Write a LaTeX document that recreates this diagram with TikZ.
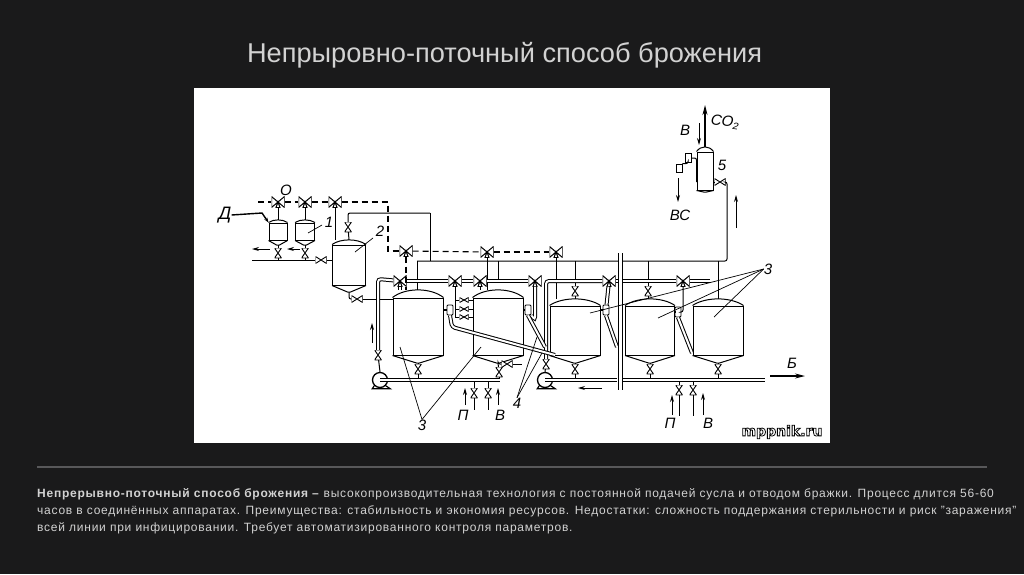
\documentclass[tikz,border=0pt]{standalone}
\usepackage{xcolor}
\usepackage{fontspec}
\setmainfont{Liberation Sans}
\newfontfamily\markfont{DejaVu Sans}
\usetikzlibrary{arrows.meta, positioning, shapes}
\definecolor{slide}{HTML}{1A1A1B}
\definecolor{rulegray}{HTML}{58585A}
\definecolor{bodytext}{HTML}{D2D2D2}

\begin{document}
\begin{tikzpicture}[
        x=1pt, y=-1pt,
        tank/.style={rectangle, draw, line width=1pt, inner sep=0pt},
        pipe/.style={line width=1pt, rounded corners=2pt},
        dpipe/.style={line width=1pt, double=white, double distance=2pt, rounded corners=3pt},
        steam/.style={line width=1.1pt, dash pattern=on 6pt off 4pt},
        flow/.style={-{Stealth[length=7pt, width=4pt]}, line width=.9pt},
        bold flow/.style={-{Stealth[length=10pt, width=5pt]}, line width=1.3pt},
        leader/.style={line width=.7pt},
        lab/.style={font=\fontsize{15}{15}\selectfont\itshape, inner sep=0pt},
        sensor/.style={rectangle, draw, fill=white, rounded corners=1pt, line width=.8pt, minimum width=6pt, minimum height=10pt, inner sep=0pt},
        pump/.style={circle, draw, fill=white, line width=1.3pt, minimum size=15pt, inner sep=0pt},
        bodyline/.style={anchor=west, inner sep=0pt, text=bodytext, font=\fontsize{12}{13}\selectfont\addfontfeature{LetterSpace=6.3}},
        vvalve/.style={inner sep=0pt, minimum width=7pt, minimum height=10pt, path picture={
            \draw[line width=.9pt, fill=white] (path picture bounding box.north west) -- (path picture bounding box.north east)
                -- (path picture bounding box.south west) -- (path picture bounding box.south east) -- cycle;}},
        hvalve/.style={inner sep=0pt, minimum width=11pt, minimum height=7pt, path picture={
            \draw[line width=.9pt, fill=white] (path picture bounding box.north west) -- (path picture bounding box.south west)
                -- (path picture bounding box.north east) -- (path picture bounding box.south east) -- cycle;}},
        small valve/.style={hvalve, minimum width=9pt, minimum height=5pt},
        tvalve/.style={inner sep=0pt, minimum width=13pt, minimum height=11pt, path picture={
            \draw[line width=1pt, fill=white] (path picture bounding box.north west) -- (path picture bounding box.center)
                -- (path picture bounding box.south west) -- cycle
                (path picture bounding box.north east) -- (path picture bounding box.center)
                -- (path picture bounding box.south east) -- cycle
                ([xshift=-2pt]path picture bounding box.south) -- (path picture bounding box.center)
                -- ([xshift=2pt]path picture bounding box.south) -- cycle;}}
        ]
        \fill[slide] (0,0) rectangle (1024,574);
        \useasboundingbox (0,0) rectangle (1024,574);
        \fill[white] (194,88) rectangle (830,443);

        \node[font=\fontsize{27.2}{29}\selectfont, text=bodytext] (title) at (504.5,55) {Непрыровно-поточный способ брожения};
        \draw[rulegray, line width=1.5pt] (37,467) -- (987,467);
        \node[bodyline] (line1) at (37,494) {\textbf{Непрерывно-поточный способ брожения –} высокопроизводительная технология с постоянной подачей сусла и отводом бражки. Процесс длится 56-60};
        \node[bodyline] (line2) at (37,511) {часов в соединённых аппаратах. Преимущества: стабильность и экономия ресурсов. Недостатки: сложность поддержания стерильности и риск "заражения"};
        \node[bodyline] (line3) at (37,528) {всей линии при инфицировании. Требует автоматизированного контроля параметров.};

        \foreach \n/\cx/\hw/\dy/\ty/\by/\ay in {t1/418/25/290/298/355/363, t2/498/25/290/298/355/363, t3/575/25/299/306/355/363,
                t4/650/24.5/299/306/355/363, t5/718/25/299/306/355/363, s1/278/9/220/223/240/245, s2/305/9.5/220/223/240/245,
                m/349/16.5/240/245/285/292, g/705/8/147/152/190/192}{
            \node[tank, minimum width={2*\hw*1pt}, minimum height={(\by-\ty)*1pt}] (\n) at (\cx,{(\ty+\by)/2}) {};
            \coordinate (\n top) at (\cx,\dy);
            \coordinate (\n out) at (\cx,\ay);
            \draw[line width=1pt] (\n.north west) .. controls ({\cx-.5*\hw},{\ty+1.33*(\dy-\ty)}) and ({\cx+.5*\hw},{\ty+1.33*(\dy-\ty)}) .. (\n.north east);
            \draw[line width=1pt] (\n.south west) -- ({\cx-1.5},\ay) -- ({\cx+1.5},\ay) -- (\n.south east);
        }

        \foreach \n/\x/\y in {tv1/278/202, tv2/305/202, tv3/335/202, tv4/406/251, tv5/487/252, tv6/556/252,
                tv7/400/281, tv8/455/281, tv9/480/281, tv10/535/281, tv11/609/281, tv12/683/281}{
            \node[tvalve] (\n) at (\x,\y) {};
        }
        \foreach \n/\x/\y in {vs1/278/253, vs2/305/253, vm1/348/227, vp1/378/355, vp2/546/364, vt1/418/369, vt2/499/372, vt3/575/369,
                vt4/650/369, vt5/718/369, vu3/575/291, vu4/648/291, vb1/474/393, vb2/488/393, vb3/679/390, vb4/693/390}{
            \node[vvalve] (\n) at (\x,\y) {};
        }
        \foreach \n/\x/\y in {vm2/357/299, vm3/321/260, vg/720/182, vc2/507/364}{
            \node[hvalve] (\n) at (\x,\y) {};
        }
        \foreach \n/\x/\y in {vf1/464/300, vf2/464/309, vf3/464/317}{
            \node[small valve] (\n) at (\x,\y) {};
        }
        \foreach \n/\x/\y in {se1/450/310, se2/528/310, se3/606/310, se4/678/312}{
            \node[sensor] (\n) at (\x,\y) {};
        }
        \node[pump] (pu1) at (380,380) {};
        \node[pump] (pu2) at (545,380) {};
        \draw[line width=1.2pt] (pu1.south west) -- ++(-2,3) -- ++(18,0) -- (pu1.south east);
        \draw[line width=1.2pt] (pu2.south west) -- ++(-2,3) -- ++(18,0) -- (pu2.south east);

        \foreach \n/\x/\y in {ha/417/261, hb/727/261, fa/430/213, ll/252/260, da/258/202, db/388/202, ca/378/279, cb/546/281, he/710/281,
                ka/545/347, kb/617/347, kc/692/353, kd/452/327, ke/555/355, ja/455/317, jb/535/320, ga/622/380, gb/617/380, gc/765/380,
                ea/500/380, sa/620/253, sb/620/390, xa/474/410, xb/488/410, xc/679/416, xd/693/416, ua/498/261, ub/498/280, ve/522/364}{
            \coordinate (\n) at (\x,\y);
        }

        \draw[pipe] (ha) -- (hb) -- (hb |- vg) -- (vg);
        \draw[pipe] (vg) -- (vg -| g.east);
        \draw[pipe] (ha) -- (ha |- t1top);
        \draw[pipe] (fa) -- (fa |- ha);
        \draw[pipe] (vm1.north) |- (fa);
        \draw[pipe] (vm1) -- (mtop);
        \draw[pipe] (mout) |- (vm2);
        \draw[pipe] (vm2) -- (vm2 -| t1.west);
        \draw[pipe] (ll) -- (vm3);
        \draw[pipe] (vm3) -- (vm3 -| m.west);
        \draw[pipe] (ua) -- (ub);
        \draw[pipe] (tv1) -- (s1top);
        \draw[pipe] (tv2) -- (s2top);
        \draw[pipe] (tv3) -- (tv3 |- mtop);
        \draw[pipe] (tv5) -- (tv5 |- t2top);
        \draw[pipe] (tv6) -- (tv6 |- t3top);
        \draw[pipe] (tv9) -- (tv9 |- t2top);
        \draw[pipe] (tv12.south) |- (se4);
        \draw[pipe] (tv8) -- (ja);
        \foreach \v in {vf1, vf2, vf3}{
            \draw[pipe] (\v -| ja) -- (\v);
            \draw[pipe] (\v) -- (\v -| t2.west);
        }
        \foreach \s/\t in {s1/vs1, s2/vs2}{
            \draw[pipe] (\s out) -- (\t);
            \draw[pipe] (\t) -- (\t |- ll);
        }
        \foreach \t/\v in {t1/vt1, t2/vt2, t3/vt3, t4/vt4, t5/vt5}{
            \draw[pipe] (\t out) -- (\v);
            \draw[pipe] (\v) -- (\v |- ea);
        }
        \foreach \t/\v in {t3/vu3, t4/vu4}{
            \draw[pipe] (\v |- ha) -- (\v);
            \draw[pipe] (\v) -- (\v |- \t top);
        }
        \draw[pipe] (t5top |- ha) -- (t5top);
        \foreach \v/\e in {vb1/xa, vb2/xb, vb3/xc, vb4/xd}{
            \draw[pipe] (\v |- ea) -- (\v);
            \draw[pipe] (\v) -- (\e);
        }
        \draw[pipe] (t2out) |- (vc2);
        \draw[pipe] (vc2) -- (ve);
        \foreach \s/\t in {se1/t1, se2/t2, se3/t3, se4/t4}{
            \draw[line width=1.6pt] (\s) -- (\s -| \t.east);
        }

        \draw[steam] (da) -- (tv1);
        \draw[steam] (tv1) -- (tv2);
        \draw[steam] (tv2) -- (tv3);
        \draw[steam] (tv3) -- (db) -- (db |- tv4) -- (tv4);
        \draw[steam] (tv4) -- (tv5);
        \draw[steam] (tv5) -- (tv6);
        \draw[steam] (tv4) -- (tv4 |- t1top);

        \draw[dpipe] (pu1.center) -- (ea);
        \draw[dpipe] (pu2.center) -- (gb);
        \draw[dpipe] (ga) -- (gc);
        \draw[pipe] (pu1.north) -- (vp1);
        \draw[pipe] (pu2.north) -- (vp2);
        \draw[dpipe] (vp1.north) -- (ca) -- (tv7);
        \draw[dpipe] (vp2.north) -- (cb) -- (tv11);
        \draw[dpipe] (tv7) -- (tv8);
        \draw[dpipe] (tv8) -- (tv9);
        \draw[dpipe] (tv9) -- (tv10);
        \draw[dpipe] (tv11) -- (tv12);
        \draw[dpipe] (tv12) -- (he);
        \draw[dpipe] (tv7) -- (tv7 |- t1top);
        \draw[dpipe] (tv10) -- (jb) -- (se2.south east);
        \draw[dpipe] (tv11) -- (se3);
        \draw[dpipe] (se1.south) -- (kd) -- (ke);
        \draw[dpipe] (se2.south) -- (ka);
        \draw[dpipe] (se3.south) -- (kb);
        \draw[dpipe] (se4.south) -- (kc);
        \draw[line width=1pt, double=white, double distance=3pt] (sa) -- (sb);

        \node[rectangle, draw, fill=white, line width=.8pt, minimum width=6pt, minimum height=9pt, inner sep=0pt] (sg1) at (688,158) {};
        \node[rectangle, draw, fill=white, line width=.8pt, minimum width=6pt, minimum height=8pt, inner sep=0pt] (sg2) at (679,168) {};
        \draw[pipe] (sg1.east) -| (g.west |- vg);
        \draw[pipe] (sg1.south) |- (sg2.north east);

        \node[lab, font=\fontsize{18}{18}\selectfont\itshape] (nd) at (225,215) {Д};
        \node[lab] (no) at (286,190) {О};
        \node[lab] (n1) at (329,222) {1};
        \node[lab] (n2) at (380,231) {2};
        \node[lab] (n3a) at (422,425) {3};
        \node[lab] (n4) at (517,403) {4};
        \node[lab] (n3b) at (768,269) {3};
        \node[lab] (n5) at (722,165) {5};
        \node[lab] (np1) at (463,415) {П};
        \node[lab] (nv1) at (500,415) {В};
        \node[lab] (np2) at (670,423) {П};
        \node[lab] (nv2) at (708,423) {В};
        \node[lab] (nb) at (792,363) {Б};
        \node[lab] (nv3) at (685,130) {В};
        \node[lab] (nvs) at (680,215) {ВС};
        \node[lab, rotate=-8] (nco) at (725,122) {CO₂};

        \foreach \n/\xa/\ya/\xb/\yb in {f1/270/249/252/249, f2/300/249/287/249, f3/372/343/372/323, f4/465/405/465/388, f5/498/405/498/388,
                f6/602/388/578/388, f7/672/415/672/395, f8/703/415/703/393, f9/736/228/736/195, f10/699/123/699/145, f11/678/178/678/202}{
            \coordinate (\n a) at (\xa,\ya);
            \coordinate (\n b) at (\xb,\yb);
            \draw[flow] (\n a) -- (\n b);
        }
        \foreach \n/\xa/\ya/\xb/\yb in {f12/705/147/705/105, f13/770/376/805/376}{
            \coordinate (\n a) at (\xa,\ya);
            \coordinate (\n b) at (\xb,\yb);
            \draw[bold flow] (\n a) -- (\n b);
        }
        \coordinate (dk) at (262,213);
        \draw[line width=1.4pt, -{Stealth[length=5pt, width=3.5pt]}] (nd.east) -- (dk) -- (s1.north west);

        \foreach \n/\x/\y in {la/308/233, lb/322/225, lc/355/252, ld/373/238, le/400/347, lf/481/347, lg/537/337, lh/542/353, li/590/313, lj/658/318, lk/714/317}{
            \coordinate (\n) at (\x,\y);
        }
        \draw[leader] (la) -- (lb);
        \draw[leader] (lc) -- (ld);
        \draw[leader] (n3a.north) -- (le);
        \draw[leader] (n3a.north) -- (lf);
        \draw[leader] (n4.north) -- (lg);
        \draw[leader] (n4.north) -- (lh);
        \draw[leader] (n3b.west) -- (li);
        \draw[leader] (n3b.west) -- (lj);
        \draw[leader] (n3b.west) -- (lk);

        \node[inner sep=0pt, text=white, font=\markfont\bfseries\fontsize{14}{15}\selectfont] (mark) at (782,432) {\special{pdf:code 2 Tr 0.8 w 0 0 0 RG}mppnik.ru\special{pdf:code 0 Tr}};
        \end{tikzpicture}
\end{document}
